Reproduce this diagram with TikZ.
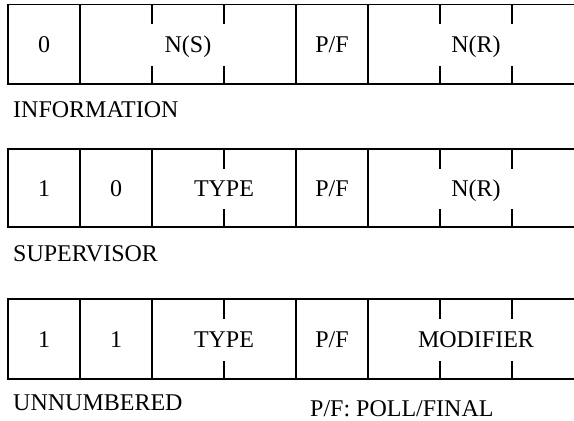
\documentclass[tikz,border=0pt]{standalone}
\usepackage{fontspec}
\setmainfont{Liberation Serif}
\usetikzlibrary{positioning}

\begin{document}
\begin{tikzpicture}[
    x=1pt, y=-1pt,
    frame_line/.style = {line width=1.6pt},
    field_txt/.style = {anchor=base, inner sep=0pt, font=\fontsize{24}{28}\selectfont},
    caption_txt/.style = {anchor=base west, inner sep=0pt, font=\fontsize{24}{28}\selectfont}
]
\useasboundingbox (0,0) rectangle (574,421);

% --- Row 1: Information frame ---
\draw[frame_line] (574,4.5) -- (8,4.5) -- (8,84) -- (574,84);
\draw[frame_line] (80,4.5) -- (80,84);
\draw[frame_line] (296,4.5) -- (296,84);
\draw[frame_line] (368,4.5) -- (368,84);
\foreach \x in {152,224,440,512} {
    \draw[frame_line] (\x,4.5) -- (\x,24);
    \draw[frame_line] (\x,84) -- (\x,66);
}
\node[field_txt] (i_bit) at (44,52) {0};
\node[field_txt] (i_ns) at (188,52) {N(S)};
\node[field_txt] (i_pf) at (332,52) {P/F};
\node[field_txt] (i_nr) at (476,52) {N(R)};
\node[caption_txt] (i_label) at (13,117) {INFORMATION};

% --- Row 2: Supervisor frame ---
\draw[frame_line] (574,149) -- (8,149) -- (8,227) -- (574,227);
\draw[frame_line] (80,149) -- (80,227);
\draw[frame_line] (152,149) -- (152,227);
\draw[frame_line] (296,149) -- (296,227);
\draw[frame_line] (368,149) -- (368,227);
\foreach \x in {224,440,512} {
    \draw[frame_line] (\x,149) -- (\x,168.5);
    \draw[frame_line] (\x,227) -- (\x,209);
}
\node[field_txt] (s_bit1) at (44,196) {1};
\node[field_txt] (s_bit2) at (116,196) {0};
\node[field_txt] (s_type) at (224,196) {TYPE};
\node[field_txt] (s_pf) at (332,196) {P/F};
\node[field_txt] (s_nr) at (476,196) {N(R)};
\node[caption_txt] (s_label) at (13,261) {SUPERVISOR};

% --- Row 3: Unnumbered frame ---
\draw[frame_line] (574,299) -- (8,299) -- (8,379) -- (574,379);
\draw[frame_line] (80,299) -- (80,379);
\draw[frame_line] (152,299) -- (152,379);
\draw[frame_line] (296,299) -- (296,379);
\draw[frame_line] (368,299) -- (368,379);
\foreach \x in {224,440,512} {
    \draw[frame_line] (\x,299) -- (\x,318.5);
    \draw[frame_line] (\x,379) -- (\x,361);
}
\node[field_txt] (u_bit1) at (44,347) {1};
\node[field_txt] (u_bit2) at (116,347) {1};
\node[field_txt] (u_type) at (224,347) {TYPE};
\node[field_txt] (u_pf) at (332,347) {P/F};
\node[field_txt] (u_mod) at (476,347) {MODIFIER};
\node[caption_txt] (u_label) at (13,410) {UNNUMBERED};
\node[caption_txt] (pf_note) at (310,416) {P/F: POLL/FINAL};

\end{tikzpicture}
\end{document}
